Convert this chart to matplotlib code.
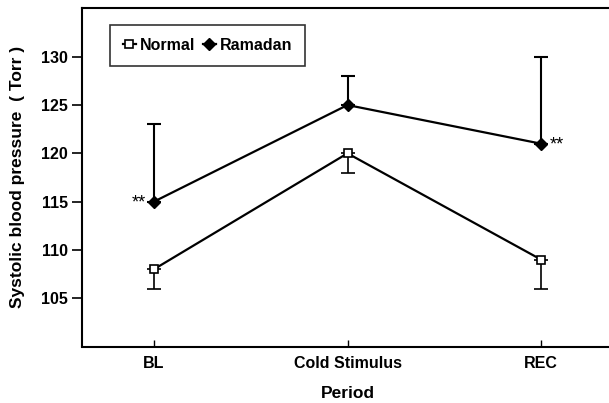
import numpy as np
import matplotlib.pyplot as plt

plt.rcParams['font.family'] = ['Liberation Sans', 'DejaVu Sans']
plt.rcParams['font.weight'] = 'bold'

periods = ['BL', 'Cold Stimulus', 'REC']
normal = [108, 120, 109]
normal_err_low = [2, 2, 3]
ramadan = [115, 125, 121]
ramadan_err_high = [8, 3, 9]
ramadan_marks = ['**', '', '**']

x = np.arange(len(periods))

fig = plt.figure(figsize=(6.09, 4.03), dpi=100)
ax = fig.add_axes([82 / 609, 1 - 346.5 / 403, (613 - 82) / 609, (346.5 - 7.5) / 403])

# 误差棒：Normal 只向下，Ramadan 只向上
ax.errorbar(x, normal, yerr=[normal_err_low, [0, 0, 0]], fmt='none',
            ecolor='black', elinewidth=1.2, capsize=5, capthick=1.2)
ax.errorbar(x, ramadan, yerr=[[0, 0, 0], ramadan_err_high], fmt='none',
            ecolor='black', elinewidth=1.5, capsize=5, capthick=1.5)

ax.plot(x, normal, color='black', lw=1.6, marker='s', ms=5.5,
        mfc='white', mec='black', mew=1.2, label='Normal')
ax.plot(x, ramadan, color='black', lw=1.6, marker='D', ms=6.5,
        mfc='black', mec='black', label='Ramadan')

for xi, yi, m in zip(x, ramadan, ramadan_marks):
    if not m:
        continue
    if xi == 0:
        ax.annotate(m, (xi, yi), xytext=(-6, -1), textcoords='offset points',
                    ha='right', va='center', fontsize=13, fontweight='normal')
    else:
        ax.annotate(m, (xi, yi), xytext=(6, -1), textcoords='offset points',
                    ha='left', va='center', fontsize=13, fontweight='normal')

ax.set_xlim(-0.372, 2.372)
ax.set_ylim(100, 135.1)
ax.set_xticks(x)
ax.set_xticklabels(periods, fontsize=11.5, fontweight='bold')
ax.set_yticks([105, 110, 115, 120, 125, 130])
ax.set_yticklabels(['105', '110', '115', '120', '125', '130'], fontsize=11.5, fontweight='bold')
ax.tick_params(axis='y', direction='out', length=7, width=1.2, pad=3)
ax.tick_params(axis='x', direction='in', length=5, width=1.0, pad=7)

for s in ['left', 'bottom', 'top']:
    ax.spines[s].set_linewidth(1.5)
ax.spines['right'].set_visible(False)

ax.set_xlabel('Period', fontsize=12.5, fontweight='bold', labelpad=11)
ax.set_ylabel('Systolic blood pressure  ( Torr )', fontsize=12.5, fontweight='bold', labelpad=12)

leg = ax.legend(loc='upper left', bbox_to_anchor=(0.053, 0.948), borderaxespad=0,
                ncol=2, frameon=True, fancybox=False, edgecolor='black',
                handlelength=0.8, handletextpad=0.25, columnspacing=0.5,
                borderpad=0.8, prop={'weight': 'bold', 'size': 11.5})
leg.get_frame().set_linewidth(1.2)

plt.savefig('out.png', dpi=100)
